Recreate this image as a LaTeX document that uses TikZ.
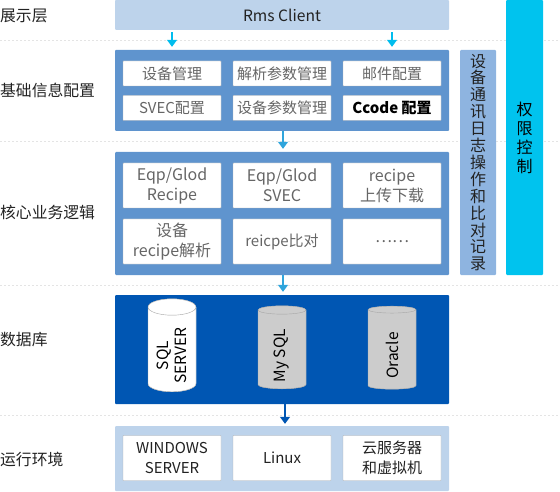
\documentclass[tikz,border=0pt]{standalone}
\usepackage{fontspec}
\setmainfont{Noto Sans CJK SC}
\usetikzlibrary{arrows.meta,shapes.geometric}
\definecolor{paleblue}{HTML}{BDD3EB}
\definecolor{midblue}{HTML}{5F94CE}
\definecolor{sideblue}{HTML}{8EB4E0}
\definecolor{deepblue}{HTML}{0056B3}
\definecolor{cyanbar}{HTML}{00C3EE}
\definecolor{skyarrow}{HTML}{00BDEE}
\definecolor{lightarrow}{HTML}{2FA5DC}
\definecolor{itemgrey}{HTML}{666666}
\definecolor{textdark}{HTML}{222222}
\definecolor{sepgrey}{HTML}{E4E4E4}
\newcommand{\dbpad}{\hspace*{12pt}}
\tikzset{
  panel/.style={rounded corners=1pt, inner sep=0pt, align=center, text=textdark,
    font=\fontsize{15.6}{19}\selectfont},
  item/.style={draw=black!30, fill=white, rounded corners=0.5pt, inner sep=0pt,
    minimum width=98pt, align=center, text=itemgrey, font=\fontsize{15}{20}\selectfont},
  itemsmall/.style={item, minimum height=25pt},
  itemtall/.style={item, minimum height=45pt, font=\fontsize{16}{20}\selectfont},
  envitem/.style={itemtall, text=textdark, font=\fontsize{15}{20}\selectfont},
  rowlabel/.style={anchor=west, inner sep=0pt, text=textdark, font=\fontsize{15.8}{19}\selectfont},
  dbcyl/.style={shape=cylinder, rotate=90, draw=black!35, aspect=0.55, cylinder uses custom fill,
    minimum height=83pt, minimum width=48pt, inner sep=0pt, align=center, text=black,
    font=\fontsize{15.5}{18}\selectfont},
  sepline/.style={sepgrey, dashed, dash pattern=on 2pt off 2pt, line width=0.6pt},
  flow/.style={line width=1.5pt, -{Triangle[width=10pt,length=7pt]}}
}
\begin{document}
\begin{tikzpicture}[x=1pt,y=-1pt]
\useasboundingbox (0,0) rectangle (560,492);
% separators
\draw[sepline] (0,40) -- (560,40);
\draw[sepline] (0,141) -- (560,141);
\draw[sepline] (0,285) -- (560,285);
\draw[sepline] (0,415) -- (560,415);
% row labels
\node[rowlabel] (labelshow) at (0,15.5) {展示层};
\node[rowlabel] (labelinfo) at (0,90.5) {基础信息配置};
\node[rowlabel] (labelcore) at (0,212.5) {核心业务逻辑};
\node[rowlabel] (labeldb) at (0,339.5) {数据库};
\node[rowlabel] (labelenv) at (0,459.5) {运行环境};
% panels
\node[panel, fill=paleblue, minimum width=334pt, minimum height=30pt] (client) at (282,15) {Rms Client};
\node[panel, fill=midblue, minimum width=334pt, minimum height=81pt] (info) at (282,90.5) {};
\node[panel, fill=midblue, minimum width=334pt, minimum height=123pt] (core) at (282,213.5) {};
\node[panel, fill=deepblue, minimum width=334pt, minimum height=109pt] (db) at (282,349.5) {};
\node[panel, fill=paleblue, minimum width=334pt, minimum height=65pt] (env) at (282,458.5) {};
\node[panel, fill=sideblue, minimum width=36pt, minimum height=225pt, font=\fontsize{16}{16.9}\selectfont] (logbar) at (478,162.5)
  {设\\备\\通\\讯\\日\\志\\操\\作\\和\\比\\对\\记\\录};
\node[panel, fill=cyanbar, minimum width=37pt, minimum height=275pt, text=black, font=\fontsize{16}{19}\selectfont] (authbar) at (524.5,137.5)
  {权\\限\\控\\制};
% basic info items
\node[itemsmall] (device) at (172,73.5) {设备管理};
\node[itemsmall] (param) at (282,73.5) {解析参数管理};
\node[itemsmall] (mail) at (392,73.5) {邮件配置};
\node[itemsmall] (svec) at (172,108) {SVEC配置};
\node[itemsmall] (devparam) at (282,108) {设备参数管理};
\node[itemsmall, text=black, font=\fontsize{15}{20}\selectfont\bfseries] (ccode) at (392,108) {Ccode 配置};
% core items
\node[itemtall] (eqprecipe) at (172,185.5) {Eqp/Glod\\Recipe};
\node[itemtall] (eqpsvec) at (282,185.5) {Eqp/Glod\\SVEC};
\node[itemtall] (transfer) at (392,185.5) {recipe\\上传下载};
\node[itemtall] (parse) at (172,241.5) {设备\\recipe解析};
\node[itemtall, font=\fontsize{15}{20}\selectfont] (compare) at (282,241.5) {reicpe比对};
\node[itemtall] (more) at (392,241.5) {……};
% databases
\node[dbcyl, fill=white, cylinder end fill=white, cylinder body fill=white] (sqlserver) at (172,349.5) {SQL\dbpad\\SERVER\dbpad};
\node[dbcyl, fill=black!20, cylinder end fill=black!20, cylinder body fill=black!20] (mysql) at (282,349.5) {My SQL\dbpad};
\node[dbcyl, fill=black!20, cylinder end fill=black!20, cylinder body fill=black!20] (oracle) at (392,349.5) {Oracle\dbpad};
% environments
\node[envitem] (windows) at (172,458) {WINDOWS\\SERVER};
\node[envitem] (linux) at (282,458) {Linux};
\node[envitem] (cloud) at (392,458) {云服务器\\和虚拟机};
% arrows
\draw[flow, skyarrow, shorten <=2pt, shorten >=3pt] (client.south -| device.north) -- (info.north -| device.north);
\draw[flow, skyarrow, shorten <=2pt, shorten >=3pt] (client.south -| mail.north) -- (info.north -| mail.north);
\draw[flow, lightarrow, shorten >=3pt] ([xshift=1pt]info.south) -- ([xshift=1pt]core.north);
\draw[flow, lightarrow, shorten >=3pt] ([xshift=1pt]core.south) -- ([xshift=1pt]db.north);
\draw[flow, deepblue, shorten >=2pt] ([xshift=3pt]db.south) -- ([xshift=3pt]env.north);
\end{tikzpicture}
\end{document}
